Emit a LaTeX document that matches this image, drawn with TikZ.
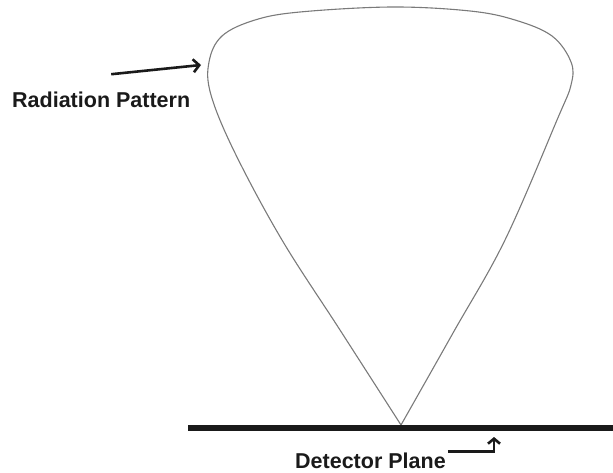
\documentclass[tikz,border=0pt]{standalone}
\usepackage{fontspec}
\setmainfont{Liberation Sans}
\usetikzlibrary{arrows.meta, positioning}
\definecolor{Ink}{HTML}{1A1A1A}
\definecolor{Lobe}{HTML}{7A7A7A}
\tikzset{
    tag/.style={font=\bfseries\fontsize{21.5}{24}\selectfont, text=Ink, inner sep=0pt},
    pointer/.style={-{Straight Barb[length=6pt, width=13pt]}, line width=2.6pt, color=Ink},
    lobe/.style={draw=Lobe, line width=1.1pt, line join=round},
    plane/.style={line width=6pt, color=Ink},
}

\begin{document}
\begin{tikzpicture}[x=1pt, y=-1pt]
    \useasboundingbox (0,0) rectangle (613,473);

    % Radiation lobe
    \coordinate (apex) at (401,425);
    \draw[lobe] plot[smooth, tension=0.6] coordinates {(401,425) (340,330) (282,240) (235,153) (211,95) (209,62) (222,36) (255,20) (300,12) (392,7) (470,11) (515,20) (552,36) (571,62) (571,85) (557,120) (505,240) (453,333) (401,425)};

    % Detector plane
    \coordinate (pleft) at (188,428);
    \coordinate (pright) at (613,428);
    \draw[plane] (pleft) -- (pright);

    % Labels
    \node[tag, anchor=base west] (radlabel) at (12,108) {Radiation Pattern};
    \coordinate (radtip) at (201,65);
    \draw[pointer] ([xshift=10pt, yshift=18pt]radlabel.north) -- (radtip);

    \node[tag, anchor=base west] (detlabel) at (295,468) {Detector Plane};
    \coordinate (dettip) at (494,437);
    \draw[pointer, -{Straight Barb[length=5pt, width=12pt]}] ([xshift=2pt, yshift=1pt]detlabel.north east) -| (dettip);
\end{tikzpicture}
\end{document}
